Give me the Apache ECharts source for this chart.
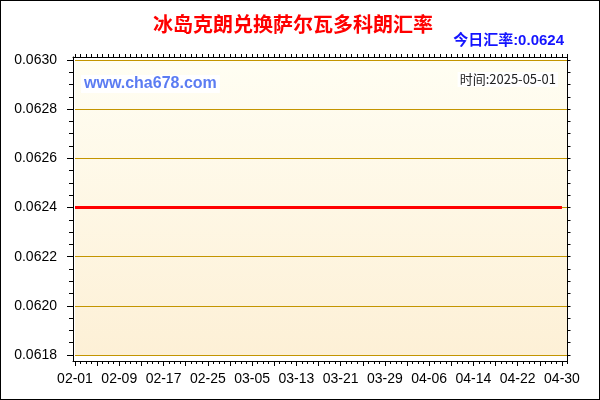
<!DOCTYPE html>
<html>
<head>
<meta charset="utf-8">
<script src="https://cdn.jsdelivr.net/npm/echarts@6/dist/echarts.min.js"></script>
<style>
html,body{margin:0;padding:0;background:#fff;}
#wrap{position:relative;width:600px;height:400px;}
#chart{position:absolute;left:0;top:0;width:600px;height:400px;}
#frame{position:absolute;left:0;top:0;width:598px;height:398px;border:1px solid #000;pointer-events:none;}
</style>
</head>
<body>
<div id="wrap"><div id="chart"></div><div id="frame"></div></div>
<script>
// ---- data ----
const chartTitle = '冰岛克朗兑换萨尔瓦多科朗汇率';
const todayLabel = '今日汇率:0.0624';
const siteLabel = 'www.cha678.com';
const timeLabel = '时间:2025-05-01';
const dates = [
  '02-01','02-02','02-03','02-04','02-05','02-06','02-07','02-08','02-09','02-10',
  '02-11','02-12','02-13','02-14','02-15','02-16','02-17','02-18','02-19','02-20',
  '02-21','02-22','02-23','02-24','02-25','02-26','02-27','02-28',
  '03-01','03-02','03-03','03-04','03-05','03-06','03-07','03-08','03-09','03-10',
  '03-11','03-12','03-13','03-14','03-15','03-16','03-17','03-18','03-19','03-20',
  '03-21','03-22','03-23','03-24','03-25','03-26','03-27','03-28','03-29','03-30','03-31',
  '04-01','04-02','04-03','04-04','04-05','04-06','04-07','04-08','04-09','04-10',
  '04-11','04-12','04-13','04-14','04-15','04-16','04-17','04-18','04-19','04-20',
  '04-21','04-22','04-23','04-24','04-25','04-26','04-27','04-28','04-29','04-30',
  '05-01'
];
const rates = [
  0.0624,0.0624,0.0624,0.0624,0.0624,0.0624,0.0624,0.0624,0.0624,0.0624,
  0.0624,0.0624,0.0624,0.0624,0.0624,0.0624,0.0624,0.0624,0.0624,0.0624,
  0.0624,0.0624,0.0624,0.0624,0.0624,0.0624,0.0624,0.0624,
  0.0624,0.0624,0.0624,0.0624,0.0624,0.0624,0.0624,0.0624,0.0624,0.0624,
  0.0624,0.0624,0.0624,0.0624,0.0624,0.0624,0.0624,0.0624,0.0624,0.0624,
  0.0624,0.0624,0.0624,0.0624,0.0624,0.0624,0.0624,0.0624,0.0624,0.0624,0.0624,
  0.0624,0.0624,0.0624,0.0624,0.0624,0.0624,0.0624,0.0624,0.0624,0.0624,
  0.0624,0.0624,0.0624,0.0624,0.0624,0.0624,0.0624,0.0624,0.0624,0.0624,
  0.0624,0.0624,0.0624,0.0624,0.0624,0.0624,0.0624,0.0624,0.0624,0.0624
];
const yMin = 0.0618, yMax = 0.0630, yStep = 0.0002;

// ---- chart ----
const chart = echarts.init(document.getElementById('chart'), null, {renderer:'canvas'});
const GOLD = '#C39500';
const frameAxis = {type:'value', min:0, max:1, gridIndex:0, axisLine:{show:true, onZero:false, lineStyle:{color:'#000', width:1}},
  axisTick:{show:false}, axisLabel:{show:false}, splitLine:{show:false}};
const tickStyle = {color:'#000', width:1};
const latin = '"Liberation Sans", Arial, sans-serif';
const cjk = '"Liberation Sans", "Noto Sans CJK SC", sans-serif';

chart.setOption({
  animation:false,
  backgroundColor:'#fff',
  grid:[
    {left:73, right:32.5, top:57, bottom:39, show:false},
    {left:75, right:32.5, top:60, bottom:45, show:true, borderWidth:0,
     backgroundColor:new echarts.graphic.LinearGradient(0,0,0,1,[{offset:0,color:'#FFFEF3'},{offset:1,color:'#FDF0D6'}])}
  ],
  xAxis:[
    Object.assign({}, frameAxis, {position:'bottom'}),
    Object.assign({}, frameAxis, {position:'top'}),
    {type:'category', gridIndex:1, data:dates, boundaryGap:false, position:'bottom', offset:6,
     axisLine:{show:false, onZero:false},
     axisTick:{show:true, interval:3, length:5, lineStyle:tickStyle},
     axisLabel:{show:true, interval:7, margin:11, color:'#000', fontSize:14, fontFamily:latin, hideOverlap:false},
     splitLine:{show:false}},
    {type:'category', gridIndex:1, data:dates, boundaryGap:false, position:'bottom', offset:6,
     axisLine:{show:false, onZero:false},
     axisTick:{show:true, interval:0, length:3, lineStyle:tickStyle},
     axisLabel:{show:false}, splitLine:{show:false}},
    {type:'category', gridIndex:1, data:dates, boundaryGap:false, position:'top', offset:3,
     axisLine:{show:false, onZero:false},
     axisTick:{show:true, interval:0, length:3, lineStyle:tickStyle},
     axisLabel:{show:false}, splitLine:{show:false}}
  ],
  yAxis:[
    Object.assign({}, frameAxis, {position:'left'}),
    Object.assign({}, frameAxis, {position:'right'}),
    {type:'value', gridIndex:1, position:'left', offset:2, min:yMin, max:yMax, interval:yStep,
     axisLine:{show:false, onZero:false},
     axisTick:{show:true, length:6, lineStyle:tickStyle},
     minorTick:{show:true, splitNumber:4, length:4, lineStyle:tickStyle},
     axisLabel:{show:true, margin:16, color:'#000', fontSize:14, fontFamily:latin,
       formatter:function(v){return v.toFixed(4);}},
     splitLine:{show:true, lineStyle:{color:GOLD, width:1}}},
    {type:'value', gridIndex:1, position:'right', offset:0, min:yMin, max:yMax, interval:yStep,
     axisLine:{show:false, onZero:false},
     axisTick:{show:true, length:3, lineStyle:tickStyle},
     minorTick:{show:true, splitNumber:4, length:3, lineStyle:tickStyle},
     axisLabel:{show:false}, splitLine:{show:false}}
  ],
  series:[
    {type:'line', xAxisIndex:2, yAxisIndex:2, data:rates, symbol:'none', smooth:false,
     lineStyle:{color:'#FF0000', width:3}, z:5}
  ],
  graphic:[
    {type:'text', left:153, top:14, z:10,
     style:{text:chartTitle, fill:'#FF0000', font:'bold 20px "Noto Sans CJK SC", sans-serif'}},
    {type:'text', right:36, top:33, z:10,
     style:{text:todayLabel, fill:'#1414FF', font:'bold 15px ' + cjk}},
    {type:'text', left:81, top:75, z:10,
     style:{text:siteLabel, fill:'#5B7CF2', font:'bold 16px ' + latin, backgroundColor:'#fff', padding:[1,3,1,3]}},
    {type:'text', right:42, top:72, z:10,
     style:{text:timeLabel, fill:'#222', font:'13px "Noto Sans CJK SC", sans-serif', backgroundColor:'#fff', padding:[1,2,1,2]}}
  ]
});
</script>
</body>
</html>
